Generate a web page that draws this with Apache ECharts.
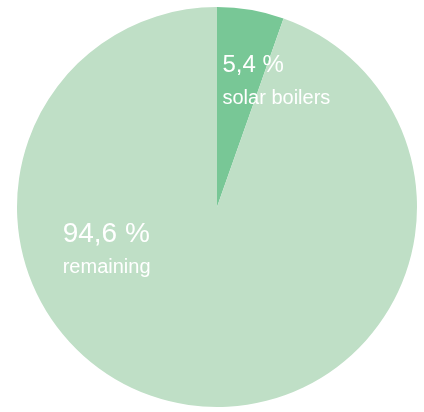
<!DOCTYPE html>
<html>
<head>
<meta charset="utf-8">
<script src="https://cdn.jsdelivr.net/npm/echarts@6/dist/echarts.min.js"></script>
<style>html,body{margin:0;padding:0;background:#fff;}#c{width:424px;height:412px;}</style>
</head>
<body>
<div id="c"></div>
<script>
var categories = ['solar boilers', 'remaining'];
var values = [5.4, 94.6];
var valueLabels = ['5,4 %', '94,6 %'];

var colors = ['#78c796', '#bfdfc6'];
var offsets = [[42, -25], [-93, -59]];
var bigSizes = [24, 28];

var chart = echarts.init(document.getElementById('c'), null, {renderer: 'canvas'});
var data = categories.map(function (c, i) {
  return {
    name: c,
    value: values[i],
    itemStyle: {color: colors[i]},
    label: {
      offset: offsets[i],
      rich: {
        a: {fontFamily: 'Liberation Sans', fontSize: bigSizes[i], color: '#ffffff', align: 'left', lineHeight: 36},
        b: {fontFamily: 'Liberation Sans', fontSize: 20, color: '#ffffff', align: 'left', lineHeight: 30}
      }
    }
  };
});
chart.setOption({
  animation: false,
  series: [{
    type: 'pie',
    center: [217, 207],
    radius: [0, 200],
    startAngle: 90,
    clockwise: true,
    silent: true,
    itemStyle: {borderWidth: 0},
    data: data,
    label: {
      show: true,
      position: 'inside',
      formatter: function (p) {
        return '{a|' + valueLabels[p.dataIndex] + '}\n{b|' + p.name + '}';
      }
    },
    labelLine: {show: false}
  }]
});
</script>
</body>
</html>
